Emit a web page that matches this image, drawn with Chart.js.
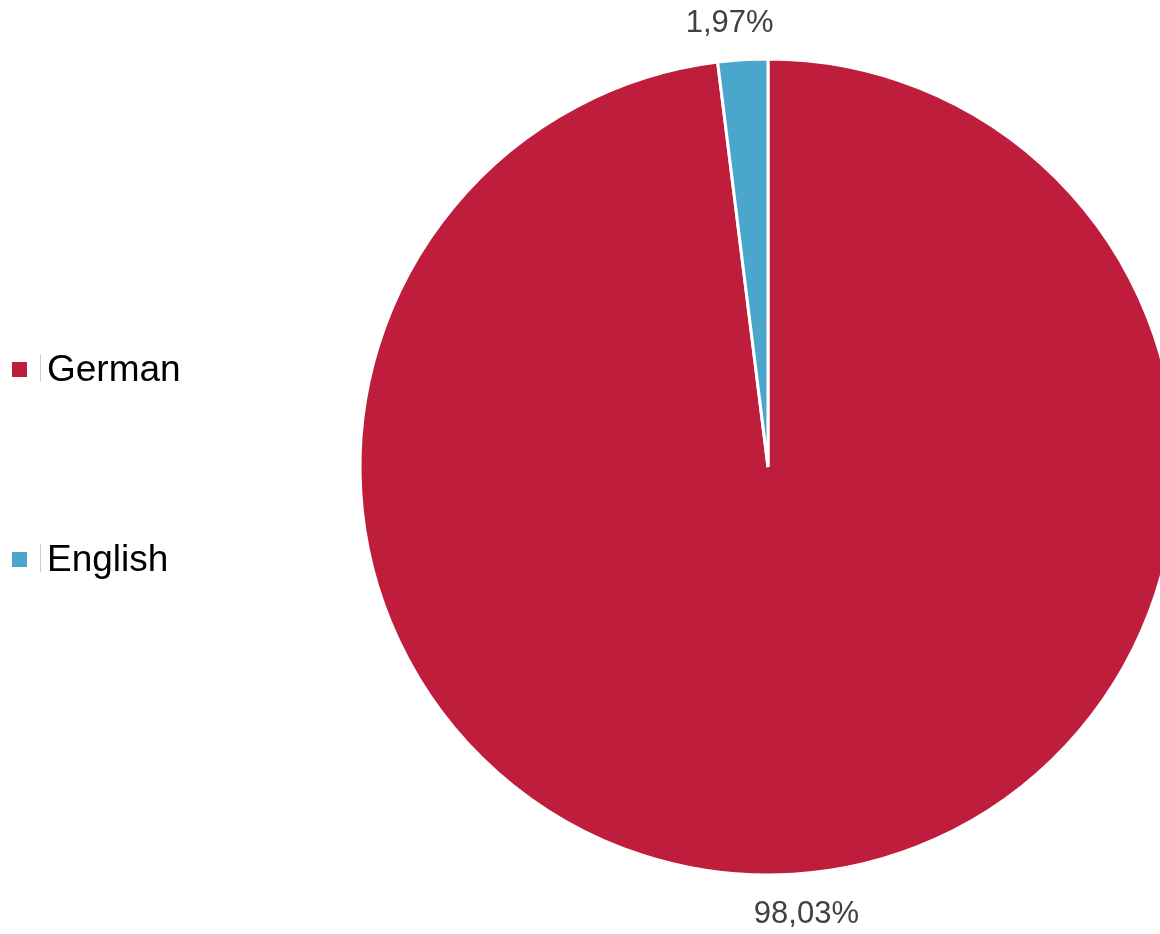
<!DOCTYPE html>
<html>
<head>
<meta charset="utf-8">
<script src="https://cdn.jsdelivr.net/npm/chart.js@4.4.1/dist/chart.umd.min.js"></script>
<style>
  html, body { margin: 0; padding: 0; background: #fff; overflow: hidden; }
  #wrap { width: 1160px; height: 934px; overflow: hidden; position: relative; }
  #box { width: 1200px; height: 934px; }
</style>
</head>
<body>
<div id="wrap"><div id="box"><canvas id="myChart"></canvas></div></div>
<script>
// Datos del gráfico
const categories = ['German', 'English'];
const shares = [98.03, 1.97];
const colors = ['#be1e3c', '#4ba6cb'];

const fontFamily = "'Liberation Sans', Arial, sans-serif";

// Etiquetas de porcentaje fuera del círculo
const outsideLabels = {
    id: 'outsideLabels',
    afterDatasetsDraw(chart) {
        const ctx = chart.ctx;
        const meta = chart.getDatasetMeta(0);
        ctx.save();
        ctx.font = '31px ' + fontFamily;
        ctx.fillStyle = '#404040';
        ctx.textAlign = 'center';
        ctx.textBaseline = 'middle';
        meta.data.forEach((arc, i) => {
            const p = arc.getProps(['x', 'y', 'startAngle', 'endAngle', 'outerRadius'], true);
            const mid = (p.startAngle + p.endAngle) / 2;
            const rx = p.outerRadius + 213;
            const ry = p.outerRadius + 38;
            const txt = shares[i].toFixed(2).replace('.', ',') + '%';
            ctx.fillText(txt, p.x + Math.cos(mid) * rx, p.y + 2 + Math.sin(mid) * ry);
        });
        ctx.restore();
    }
};

// Leyenda a la izquierda
const leftLegend = {
    id: 'leftLegend',
    afterDraw(chart) {
        const ctx = chart.ctx;
        const rows = [370, 560];
        ctx.save();
        chart.data.labels.forEach((label, i) => {
            const y = rows[i];
            ctx.fillStyle = chart.data.datasets[0].backgroundColor[i];
            ctx.fillRect(12, y - 8, 15, 15);
            ctx.strokeStyle = '#cccccc';
            ctx.lineWidth = 1;
            ctx.beginPath();
            ctx.moveTo(40.5, y - 16);
            ctx.lineTo(40.5, y + 12);
            ctx.stroke();
            ctx.fillStyle = '#000000';
            ctx.font = '37px ' + fontFamily;
            ctx.textAlign = 'left';
            ctx.textBaseline = 'middle';
            ctx.fillText(label, 47, y + 1);
        });
        ctx.restore();
    }
};

const ctx = document.getElementById('myChart').getContext('2d');
const myChart = new Chart(ctx, {
    type: 'pie',
    data: {
        labels: categories,
        datasets: [{
            data: shares,
            backgroundColor: colors,
            borderColor: '#ffffff',
            borderWidth: 3
        }]
    },
    options: {
        responsive: true,
        maintainAspectRatio: false,
        animation: false,
        radius: 408,
        layout: {
            padding: { left: 361, right: 25, top: 60, bottom: 60 }
        },
        plugins: {
            legend: { display: false },
            tooltip: { enabled: false }
        }
    },
    plugins: [outsideLabels, leftLegend]
});
</script>
</body>
</html>
